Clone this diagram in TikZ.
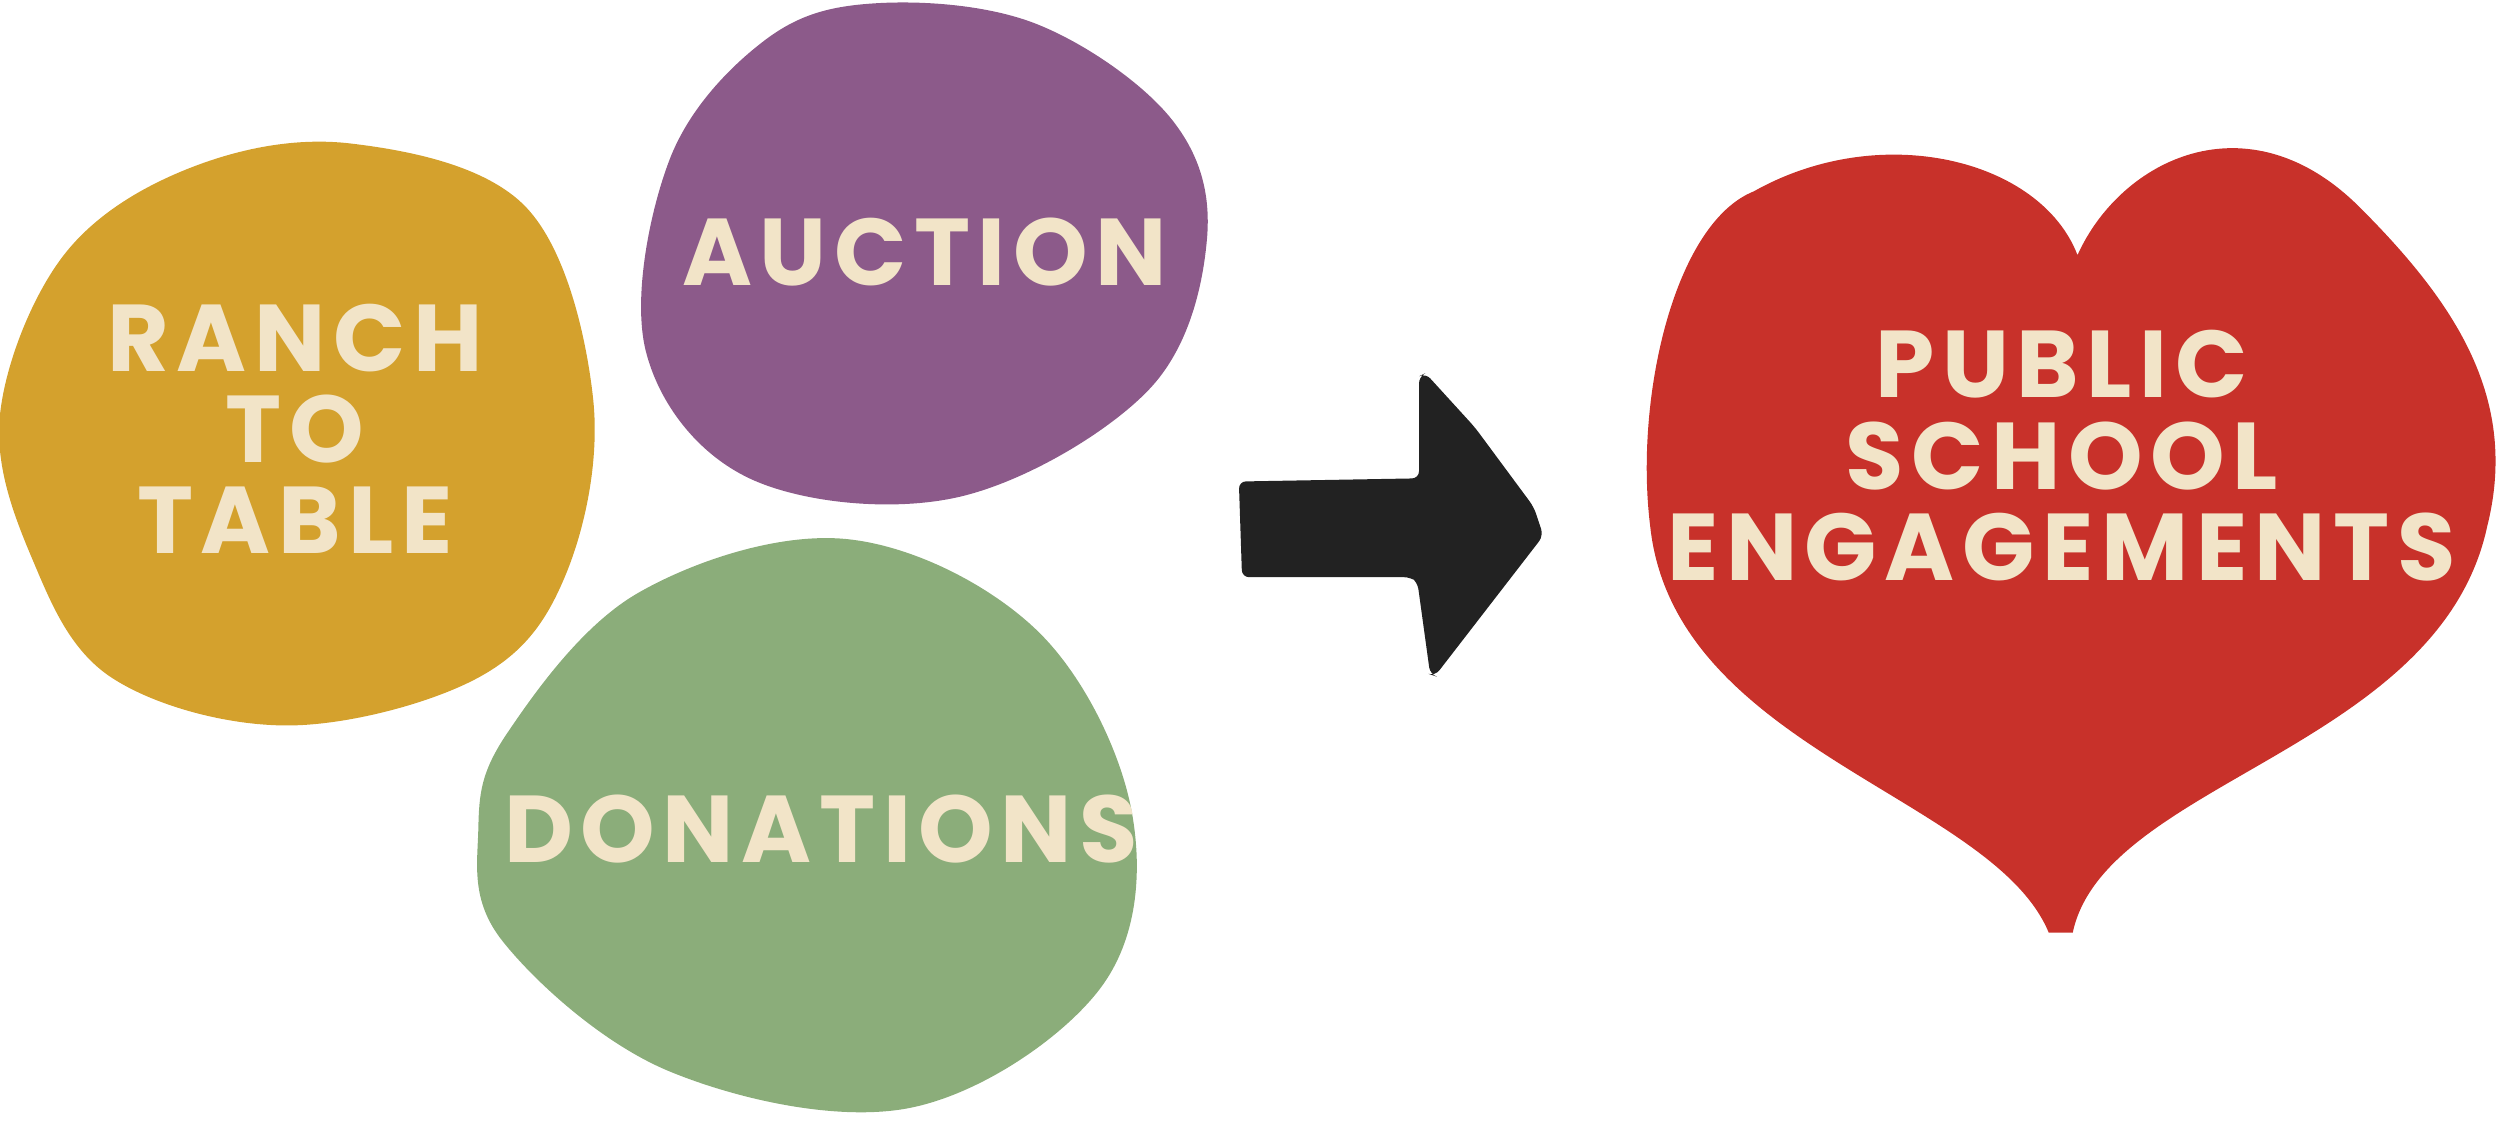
\documentclass[tikz,border=0pt]{standalone}
\usepackage{fontspec}
\setmainfont{Poppins}[LetterSpace=8]
\definecolor{yel}{HTML}{D4A12D}
\definecolor{pur}{HTML}{8C5A8A}
\definecolor{grn}{HTML}{8BAD7A}
\definecolor{hred}{HTML}{C8312A}
\definecolor{cream}{HTML}{F2E4C8}
\definecolor{ink}{HTML}{222222}
\begin{document}
\begin{tikzpicture}[x=0.01594cm,y=-0.01594cm,
  lbl/.style={text=cream,font=\fontsize{27}{26}\selectfont\bfseries,align=center}]
\useasboundingbox (0,0) rectangle (1568,705);
\fill[yel] plot[smooth cycle,tension=0.6] coordinates{(120,105)(220,90)(330,130)(372,250)(355,360)(300,425)(180,455)(70,425)(20,350)(0,260)(40,160)};
\fill[pur] plot[smooth cycle,tension=0.6] coordinates{(550,2)(650,15)(735,75)(757,150)(720,245)(600,312)(470,300)(405,220)(420,100)(480,25)};
\fill[grn] plot[smooth cycle,tension=0.6] coordinates{(318,460)(400,372)(530,338)(650,395)(710,510)(690,620)(570,695)(420,672)(315,590)(300,520)};
\fill[hred] (1285,585) .. controls (1250,500) and (1050,470) .. (1035,330)
  .. controls (1025,250) and (1050,140) .. (1100,120)
  .. controls (1180,75) and (1280,100) .. (1303,160)
  .. controls (1330,100) and (1410,60) .. (1480,130)
  .. controls (1540,190) and (1580,250) .. (1560,330)
  .. controls (1530,470) and (1320,490) .. (1300,585) -- cycle;
\fill[ink,rounded corners=2] (777,302) -- (890,300) -- (890,236) -- (894,234)
  -- (925,268) -- (962,318) -- (968,336) -- (900,424) -- (897,423) -- (889,365)
  -- (885,362) -- (779,362) -- cycle;
\node[lbl] (r) at (185,269) {RANCH\\TO\\TABLE};
\node[lbl] (a) at (580,158) {AUCTION};
\node[lbl] (d) at (515,520) {DONATIONS};
\node[lbl] (p) at (1293,286) {PUBLIC\\SCHOOL\\ENGAGEMENTS};
\end{tikzpicture}
\end{document}
